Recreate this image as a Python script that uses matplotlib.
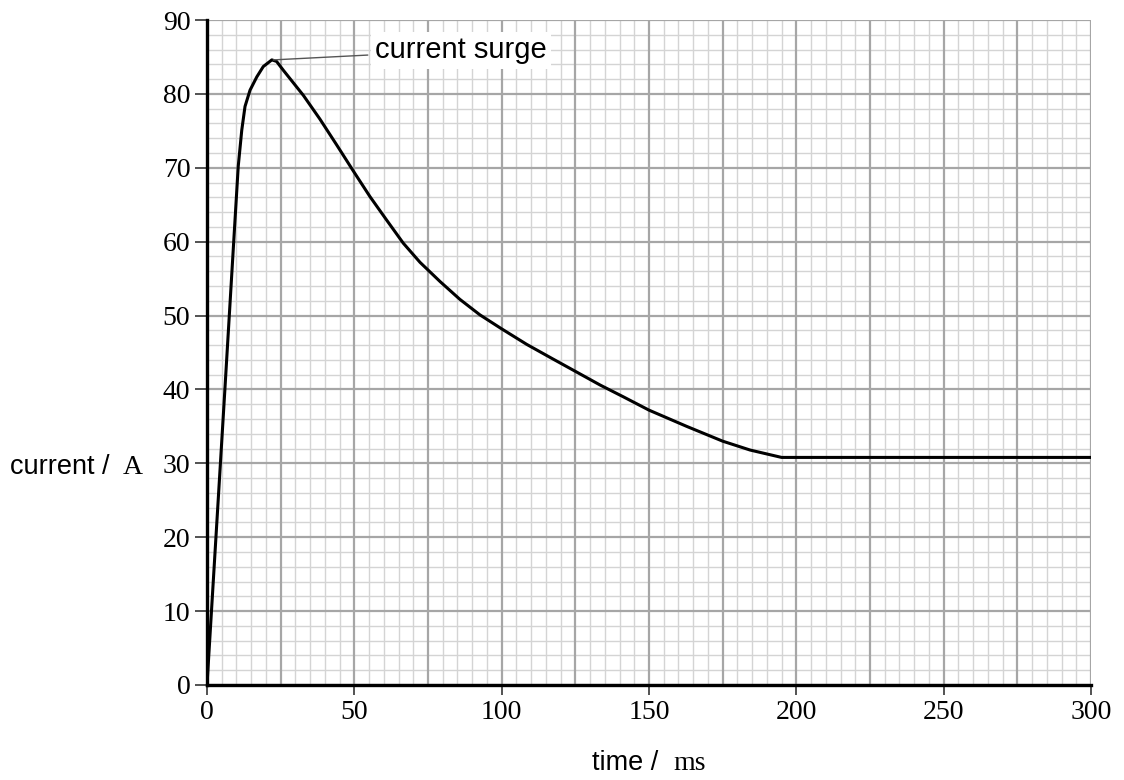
import matplotlib
matplotlib.use("Agg")
import matplotlib.pyplot as plt
import numpy as np

# data
time_ms = [0, 6.1, 8.9, 10.6, 11.8, 12.9, 14.6, 16.9, 19.1, 22.0, 23.6,
           25.9, 28.5, 32.7, 38.3, 44.0, 49.6, 55.3, 61.0, 66.6, 72.3, 79.1,
           85.8, 92.6, 100.0, 108.5, 117.5, 126.6, 133.4, 141.3, 150.0, 162.8,
           175.0, 184.3, 195.0, 300.0]
current_A = [0, 40.2, 58.9, 70.2, 75.1, 78.3, 80.5, 82.3, 83.7, 84.6, 84.4,
             83.2, 81.9, 79.8, 76.6, 73.1, 69.6, 66.1, 62.9, 59.8, 57.2, 54.6,
             52.2, 50.1, 48.2, 46.1, 44.1, 42.1, 40.6, 39.0, 37.2, 35.0,
             33.0, 31.8, 30.8, 30.8]
x_ticks = [0, 50, 100, 150, 200, 250, 300]
y_ticks = [0, 10, 20, 30, 40, 50, 60, 70, 80, 90]
peak = (22.5, 84.6)

serif = ["Liberation Serif", "DejaVu Serif"]
sans = ["Liberation Sans", "DejaVu Sans"]

fig = plt.figure(figsize=(11.24, 7.8), dpi=100)
ax = fig.add_axes([207/1124, 1-685/780, (1091-207)/1124, (685-20)/780])
ax.set_xlim(0, 300)
ax.set_ylim(0, 90)

# fine grid
for xv in np.arange(0, 301, 5):
    major = (xv % 25 == 0)
    ax.axvline(xv, color="#a6a6a6" if major else "#d4d4d4",
               lw=1.6 if major else 1.0, zorder=1 if major else 0.5)
for yv in np.arange(0, 91, 2):
    major = (yv % 10 == 0)
    ax.axhline(yv, color="#a6a6a6" if major else "#d4d4d4",
               lw=1.6 if major else 1.0, zorder=1 if major else 0.5)

ax.plot(time_ms, current_A, color="black", lw=2.2, zorder=3,
        solid_joinstyle="round", solid_capstyle="round")

ax.set_xticks(x_ticks)
ax.set_yticks(y_ticks)
ax.set_xticklabels([str(v) for v in x_ticks], fontfamily=serif, fontsize=20)
ax.set_yticklabels([str(v) for v in y_ticks], fontfamily=serif, fontsize=20)
ax.tick_params(axis="x", length=7, width=1.3, color="#444444", pad=4)
ax.tick_params(axis="y", length=9, width=1.3, color="#444444", pad=3)

for s in ["top", "right"]:
    ax.spines[s].set_visible(False)
for s in ["left", "bottom"]:
    ax.spines[s].set_linewidth(2.4)
    ax.spines[s].set_zorder(4)

# annotation
ax.annotate("current surge", xy=peak, xytext=(57, 85.9),
            fontfamily=sans, fontsize=21, va="center", ha="left",
            arrowprops=dict(arrowstyle="-", color="#555555", lw=1.0,
                            shrinkA=2, shrinkB=0),
            bbox=dict(boxstyle="square,pad=0.15", fc="white", ec="none"),
            zorder=5)

# axis labels (sans + serif mix)
fig.text(10/1124, 1-467/780, "current / ", fontfamily=sans, fontsize=19.5,
         ha="left", va="center")
fig.text(143/1124, 1-467/780, "A", fontfamily=serif, fontsize=20,
         ha="right", va="center")
fig.text(592/1124, 1-763/780, "time / ", fontfamily=sans, fontsize=19.5,
         ha="left", va="center")
fig.text(706/1124, 1-763/780, "ms", fontfamily=serif, fontsize=20,
         ha="right", va="center")

fig.savefig("out.png", dpi=100, facecolor="white")
